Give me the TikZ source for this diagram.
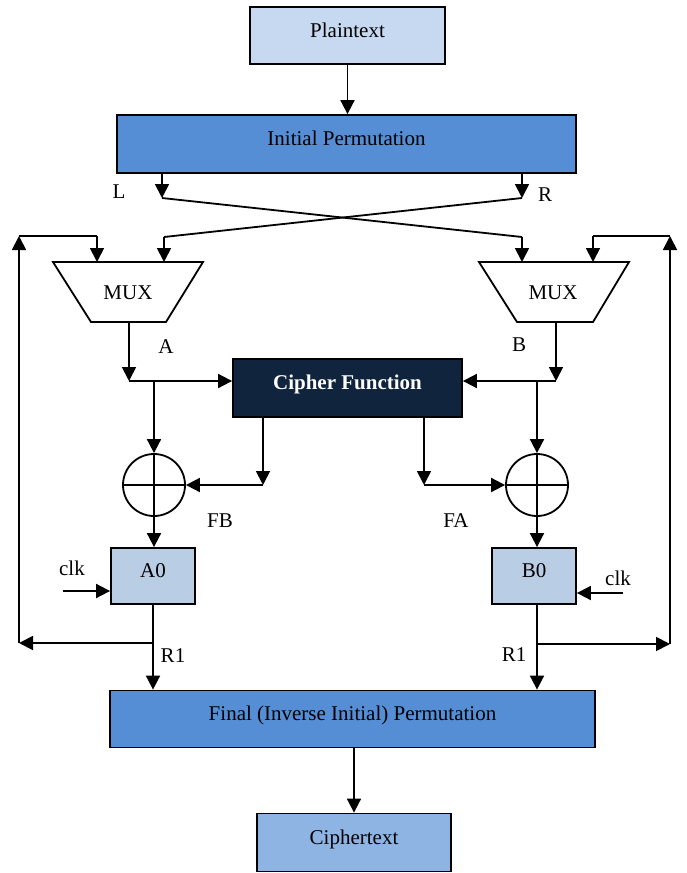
\documentclass[tikz,border=0pt]{standalone}
\usepackage{fontspec}
\setmainfont{Liberation Serif}
\usetikzlibrary{arrows.meta,calc}
\definecolor{paleblue}{HTML}{C6D9F1}
\definecolor{permblue}{HTML}{558ED5}
\definecolor{navy}{HTML}{10243E}
\definecolor{regblue}{HTML}{B9CDE5}
\definecolor{outblue}{HTML}{8EB4E3}
\begin{document}
\begin{tikzpicture}[x=1pt,y=-1pt,
  font=\fontsize{21}{25}\selectfont,
  wire/.style={line width=1.8pt},
  flow/.style={wire,-{Triangle[length=14pt,width=14pt]}},
  blockbox/.style={draw,line width=1.8pt,inner sep=0pt,minimum height=57pt,
                   text height=14pt,text depth=10.5pt},
  lbl/.style={inner sep=0pt},
  xorgate/.style={circle,draw,line width=1.8pt,minimum size=62pt,inner sep=0pt},
]
\useasboundingbox (0,0) rectangle (686,873);

% ---- blocks ----
\node[blockbox,fill=paleblue,minimum width=195pt] (plain) at (347.5,35.5) {Plaintext};
\node[blockbox,fill=permblue,minimum width=459pt,minimum height=58pt] (ip) at (346.5,144) {Initial Permutation};
\node[blockbox,fill=navy,text=white,font=\fontsize{21}{25}\selectfont\bfseries,
      minimum width=229pt,minimum height=58pt] (cf) at (347.5,388) {Cipher Function};
\node[xorgate] (xl) at (154,485) {};
\node[xorgate] (xr) at (537,485) {};
\draw[wire] (xl.north) -- (xl.south) (xl.west) -- (xl.east);
\draw[wire] (xr.north) -- (xr.south) (xr.west) -- (xr.east);
\node[blockbox,fill=regblue,minimum width=84pt,minimum height=56pt] (a0) at (153,576) {A0};
\node[blockbox,fill=regblue,minimum width=84pt,minimum height=56pt] (b0) at (534,576) {B0};
\node[blockbox,fill=permblue,minimum width=485pt] (fp) at (352.5,719) {Final (Inverse Initial) Permutation};
\node[blockbox,fill=outblue,minimum width=194pt,minimum height=58pt] (ct) at (354,842.5) {Ciphertext};

% ---- multiplexers ----
\draw[wire] (53,262) -- (203,262) -- (166,322) -- (91,322) -- cycle;
\node[lbl] (muxL) at (128,293) {MUX};
\coordinate (muxLin1) at (97,262);
\coordinate (muxLin2) at (164,262);
\coordinate (muxLout) at (129,322);

\draw[wire] (479,262) -- (629,262) -- (593,322) -- (517,322) -- cycle;
\node[lbl] (muxR) at (553,293) {MUX};
\coordinate (muxRin1) at (522,262);
\coordinate (muxRin2) at (593,262);
\coordinate (muxRout) at (556,322);

% ---- plaintext through the initial permutation ----
\draw[flow] (plain.south) -- (plain.south |- ip.north);
\coordinate (lsplit) at (162,198);
\coordinate (rsplit) at (522,198);
\coordinate (lcross) at (164,237);
\coordinate (rcross) at (522,237);
\draw[flow] (ip.south -| lsplit) -- (lsplit);
\draw[flow] (ip.south -| rsplit) -- (rsplit);
\draw[wire] (lsplit) -- (rcross);
\draw[wire] (rsplit) -- (lcross);
\draw[flow] (lcross) -- (muxLin2);
\draw[flow] (rcross) -- (muxRin1);
\node[lbl] (lL) at (119,192) {L};
\node[lbl] (lR) at (545,195) {R};

% ---- feedback loops ----
\coordinate (ltap) at (153,643);
\coordinate (lcorner) at (19,643);
\coordinate (ltop) at (19,236);
\coordinate (lmuxtop) at (97,236);
\draw[flow] (ltap) -- (lcorner);
\draw[flow] (lcorner) -- (ltop);
\draw[wire] (ltop) -- (lmuxtop);
\draw[flow] (lmuxtop) -- (muxLin1);

\coordinate (rtap) at (537,644);
\coordinate (rcorner) at (670,644);
\coordinate (rtop) at (670,236);
\coordinate (rmuxtop) at (593,236);
\draw[flow] (rtap) -- (rcorner);
\draw[flow] (rcorner) -- (rtop);
\draw[wire] (rtop) -- (rmuxtop);
\draw[flow] (rmuxtop) -- (muxRin2);

% ---- multiplexer outputs ----
\coordinate (ajn) at (129,381);
\draw[flow] (muxLout) -- (ajn);
\draw[flow] (ajn) -- (cf.west |- ajn);
\draw[flow] (ajn -| xl) -- (xl.north);
\node[lbl] (lA) at (166,347) {A};

\coordinate (bjn) at (556,381);
\draw[flow] (muxRout) -- (bjn);
\draw[flow] (bjn) -- (cf.east |- bjn);
\draw[flow] (bjn -| xr) -- (xr.north);
\node[lbl] (lB) at (519,345) {B};

% ---- cipher function outputs ----
\coordinate (fbjn) at (263,485);
\draw[flow] (cf.south -| fbjn) -- (fbjn);
\draw[flow] (fbjn) -- (xl.east);
\node[lbl] (lFB) at (220,521) {FB};

\coordinate (fajn) at (424,485);
\draw[flow] (cf.south -| fajn) -- (fajn);
\draw[flow] (fajn) -- (xr.west);
\node[lbl] (lFA) at (456,521) {FA};

% ---- registers ----
\draw[flow] (xl.south) -- (xl.south |- a0.north);
\draw[flow] (xr.south) -- (xr.south |- b0.north);

\coordinate (clkL) at (63,591);
\draw[flow] (clkL) -- (a0.west |- clkL);
\node[lbl] (lclkL) at (72,568) {clk};
\coordinate (clkR) at (623,593);
\draw[flow] (clkR) -- (b0.east |- clkR);
\node[lbl] (lclkR) at (618,578) {clk};

\draw[flow] (a0.south) -- (a0.south |- fp.north);
\draw[flow] (b0.south -| rtap) -- (rtap |- fp.north);
\node[lbl] (lR1a) at (173,656) {R1};
\node[lbl] (lR1b) at (514,655) {R1};

% ---- output ----
\draw[flow] (fp.south -| ct) -- (ct.north);
\end{tikzpicture}
\end{document}
